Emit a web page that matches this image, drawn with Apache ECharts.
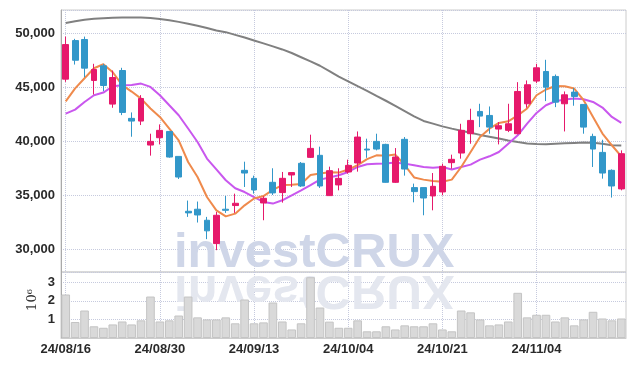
<!DOCTYPE html>
<html><head><meta charset="utf-8">
<script src="https://cdn.jsdelivr.net/npm/echarts@6/dist/echarts.min.js"></script>
<style>html,body{margin:0;padding:0;background:#fff}#c{width:634px;height:366px}</style>
</head><body><div id="c"></div>
<script>
const dates = ['24/08/16','24/08/19','24/08/20','24/08/21','24/08/22','24/08/23','24/08/26','24/08/27','24/08/28','24/08/29',
'24/08/30','24/09/02','24/09/03','24/09/04','24/09/05','24/09/06','24/09/09','24/09/10','24/09/11','24/09/12',
'24/09/13','24/09/19','24/09/20','24/09/23','24/09/24','24/09/25','24/09/26','24/09/27','24/09/30','24/10/02',
'24/10/04','24/10/07','24/10/08','24/10/10','24/10/11','24/10/14','24/10/15','24/10/16','24/10/17','24/10/18',
'24/10/21','24/10/22','24/10/23','24/10/24','24/10/25','24/10/28','24/10/29','24/10/30','24/10/31','24/11/01',
'24/11/04','24/11/05','24/11/06','24/11/07','24/11/08','24/11/11','24/11/12','24/11/13','24/11/14','24/11/15'];

const opens  = [45750,49320,49420,45630,46980,43440,46550,42120,41870,39650,40330,40910,38600,33520,33710,32690,30530,33710,34050,37310,
36570,34290,36200,35250,36880,37960,38510,38700,34970,35960,37160,37990,39280,39990,39710,36200,40180,35710,35710,34940,
35310,38020,38910,40700,42760,42390,41130,41010,40700,43470,45570,46460,46000,43470,44550,43410,40450,38970,37310,35590];
const closes = [48950,47500,46770,46640,45160,45900,42670,41870,43960,39990,41010,38540,36690,33370,33180,31710,33150,33610,34260,37060,
35490,34720,35220,36570,37100,35860,39340,35860,37280,36570,37770,40390,39190,39280,36200,38540,37430,35340,34750,35830,
37680,38330,41010,41930,42330,41310,41440,41620,44610,45230,46800,45010,43620,44300,44150,41310,39280,37060,35860,38850];
const lows   = [45500,47100,45930,44330,44640,43100,42420,40420,41500,38670,39710,38480,36510,33000,32480,30940,29920,33370,33370,35770,
35150,32690,35030,34320,35770,35770,38450,35680,34940,35460,37000,37190,38470,39160,36170,36140,36820,34350,33150,33610,
35000,37460,38390,39770,41310,40700,39710,40850,40640,43100,45380,43720,43160,40910,43290,40700,37620,36540,34790,35460];
const highs  = [49690,49480,49690,47170,47170,46550,46800,42670,44270,40700,41560,40910,38600,34510,34420,33000,33460,34940,35150,38110,
36820,34910,37500,37160,37100,38080,40610,39500,37650,37500,38300,40910,40240,40700,39770,39370,40390,36080,35710,37060,
37930,38760,41620,43010,43470,43220,41780,43470,45470,45630,47170,47540,46180,44610,44920,43410,40700,40140,37400,39160];

const ma5  = [43700,44900,45830,46760,47130,46390,45200,44600,43950,43030,42250,41170,40090,38080,36690,34840,33610,33050,33300,34070,
34700,34930,35500,35950,35980,36050,36880,37010,37130,37100,37380,37800,38350,38700,38650,38770,37800,36650,36450,36320,
36260,36450,37620,39010,40400,41170,41700,41850,42400,43030,44260,44790,45120,45090,44880,43800,42250,40710,39630,38610];
const ma20 = [42560,42930,43640,44260,44510,45090,45180,45210,45340,45030,44260,43330,42410,41180,39930,38400,37400,36390,35650,35300,
34840,34380,34230,34540,35000,35460,35950,36450,36640,36850,37160,37620,37870,37930,37950,38030,37930,37780,37620,37560,
37620,37380,37620,37840,38300,38610,39010,39780,40550,41630,42620,43330,43700,43860,43950,43890,43640,43120,42250,41700];
const ma60 = [50950,51100,51250,51330,51390,51430,51450,51460,51450,51400,51310,51200,51050,50880,50700,50490,50250,50100,49850,49600,
49330,49060,48780,48500,48170,47780,47390,46990,46500,45980,45550,45100,44660,44200,43750,43280,42790,42300,41880,41630,
41380,41170,40980,40780,40590,40420,40250,40080,39930,39800,39740,39720,39770,39820,39850,39880,39860,39760,39640,39600];

const volumes = [2340000,860000,1480000,630000,550000,730000,890000,730000,950000,2230000,890000,950000,1210000,2230000,1110000,1000000,1000000,1110000,790000,2070000,
790000,840000,1910000,890000,460000,790000,3270000,1640000,880000,550000,550000,950000,360000,360000,630000,460000,680000,630000,630000,790000,
460000,360000,1480000,1380000,1000000,680000,730000,890000,2430000,1110000,1250000,1250000,890000,1110000,680000,1000000,1410000,1050000,950000,1050000];

const candle = dates.map((d, i) => [opens[i], closes[i], lows[i], highs[i]]);

const labelFont = "'Liberation Sans', Arial, sans-serif";
const gridLine = { show: true, lineStyle: { color: '#c6cade', type: 'dotted', width: 1 } };
const vLine = { show: true, interval: 9, alignWithLabel: true, lineStyle: { color: '#c6cade', type: 'dotted', width: 1 } };
const lbl = { color: '#2a2a2a', fontSize: 13, fontWeight: 'bold', fontFamily: labelFont };

const chart = echarts.init(document.getElementById('c'), null, { renderer: 'canvas' });
chart.setOption({
  animation: false,
  backgroundColor: '#ffffff',
  grid: [
    { left: 61, right: 8, top: 10, height: 262, show: true, borderColor: '#cccccc', borderWidth: 1 },
    { left: 61, right: 8, top: 272, height: 66, show: true, borderColor: '#cccccc', borderWidth: 1 }
  ],
  xAxis: [
    { type: 'category', gridIndex: 0, data: dates, boundaryGap: true,
      axisLine: { show: false }, axisTick: { show: false, interval: 9, alignWithLabel: true },
      axisLabel: { show: false, interval: 9 }, splitLine: vLine },
    { type: 'category', gridIndex: 1, data: dates, boundaryGap: true,
      axisLine: { show: true, lineStyle: { color: '#cccccc' } }, axisTick: { show: false, interval: 9, alignWithLabel: true },
      axisLabel: Object.assign({ interval: 9, margin: 5 }, lbl),
      splitLine: vLine }
  ],
  yAxis: [
    { type: 'value', gridIndex: 0, min: 27900, max: 52150, splitNumber: 5,
      axisLine: { show: true, lineStyle: { color: '#aaaaaa' } }, axisTick: { show: false },
      axisLabel: Object.assign({ showMinLabel: false, showMaxLabel: false, margin: 6,
        formatter: v => v.toLocaleString('en-US') }, lbl),
      splitLine: gridLine },
    { type: 'value', gridIndex: 1, min: 0, max: 3550000, interval: 1000000,
      axisLine: { show: true, lineStyle: { color: '#aaaaaa' } }, axisTick: { show: false },
      axisLabel: Object.assign({ showMaxLabel: false, margin: 6,
        formatter: v => v === 0 ? '' : String(Math.round(v / 1e6)) }, lbl),
      splitLine: gridLine }
  ],
  graphic: [
    { type: 'text', x: 174, y: 253, z: 1, silent: true,
      style: { text: 'investCRUX', fontSize: 49, fontWeight: 'bold', fontFamily: "'Liberation Sans', Arial, sans-serif",
        fill: '#cfd6e8', align: 'left', verticalAlign: 'middle' } },
    { type: 'text', x: 174, y: 290, scaleY: -1, z: 1, silent: true,
      style: { text: 'investCRUX', fontSize: 49, fontWeight: 'bold', fontFamily: "'Liberation Sans', Arial, sans-serif",
        fill: '#e4e7ef', align: 'left', verticalAlign: 'middle' } },
    { type: 'text', x: 33, y: 300, rotation: Math.PI / 2, z: 5, silent: true,
      style: { text: '10⁶', fontSize: 13, fontFamily: "'DejaVu Serif', serif", fill: '#333', align: 'center', verticalAlign: 'middle' } }
  ],
  series: [
    { name: 'MA60', type: 'line', xAxisIndex: 0, yAxisIndex: 0, data: ma60, showSymbol: false, smooth: false,
      lineStyle: { color: '#808080', width: 2 }, z: 2 },
    { name: 'MA20', type: 'line', xAxisIndex: 0, yAxisIndex: 0, data: ma20, showSymbol: false,
      lineStyle: { color: '#c957ee', width: 2 }, z: 2 },
    { name: 'MA5', type: 'line', xAxisIndex: 0, yAxisIndex: 0, data: ma5, showSymbol: false,
      lineStyle: { color: '#ef8a4c', width: 2 }, z: 2 },
    { name: 'Price', type: 'candlestick', xAxisIndex: 0, yAxisIndex: 0, data: candle, barWidth: '68%',
      itemStyle: { color: '#e6196b', color0: '#3297c9', borderColor: '#e6196b', borderColor0: '#3297c9', borderWidth: 1 }, z: 3 },
    { name: 'Volume', type: 'bar', xAxisIndex: 1, yAxisIndex: 1, data: volumes, barWidth: '92%',
      itemStyle: { color: '#d9d9d9', borderColor: '#c4c4c4', borderWidth: 1 }, z: 2 }
  ]
});
</script></body></html>
